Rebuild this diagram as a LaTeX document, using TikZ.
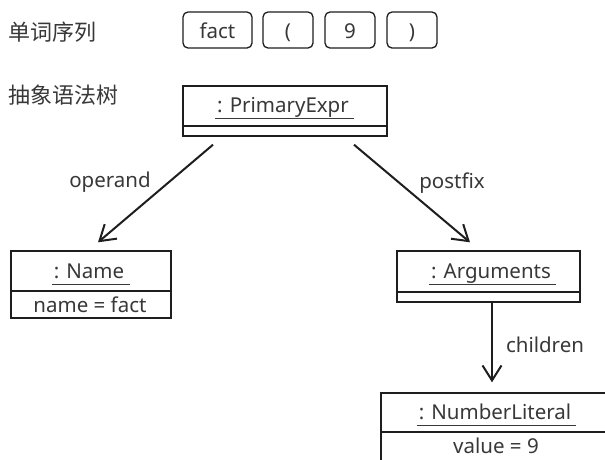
\documentclass[tikz,border=0pt]{standalone}
\usepackage{fontspec}
\setmainfont{Noto Sans}
\newfontfamily\cjk{Noto Sans CJK SC}
\usetikzlibrary{arrows.meta}
\definecolor{ink}{HTML}{1E1E1E}
\definecolor{txt}{HTML}{383838}
\begin{document}
\begin{tikzpicture}[x=1pt,y=-1pt,
  lbl/.style={inner sep=0pt, text=txt, font=\fontsize{20.5}{20.5}\selectfont},
  cjklbl/.style={inner sep=0pt, text=txt, font=\cjk\fontsize{22}{22}\selectfont, anchor=base west},
  tok/.style={draw=ink, line width=1.3pt, rounded corners=5pt, minimum height=36pt,
    inner sep=0pt, text=txt, font=\fontsize{20.5}{20.5}\selectfont, text height=18pt, text depth=2pt},
  comp/.style={draw=ink, line width=1.4pt, inner sep=0pt},
  ttl/.style={lbl, anchor=base},
  uline/.style={draw=txt, line width=1pt},
  arr/.style={draw=ink, line width=2pt, -{Straight Barb[length=15pt,width=19pt,line width=2pt]}}
]
\useasboundingbox (0,0) rectangle (605,459);
\clip (0,0) rectangle (605,459);
\fill[white] (0,0) rectangle (605,459);

% row labels
\node[cjklbl] (l1) at (8,40.5) {单词序列};
\node[cjklbl] (l2) at (8,103) {抽象语法树};

% tokens
\node[tok, minimum width=69pt] (t1) at (217.5,30) {fact};
\node[tok, minimum width=50pt] (t2) at (288,30) {(};
\node[tok, minimum width=50pt] (t3) at (350,30) {9};
\node[tok, minimum width=50pt] (t4) at (412,30) {)};

% PrimaryExpr
\node[comp, minimum width=204pt, minimum height=40pt] (pe) at (285,106) {};
\node[comp, minimum width=204pt, minimum height=10pt] (pe2) at (285,131) {};
\node[ttl] (pet) at (283,112) {: PrimaryExpr};
\draw[uline] ([xshift=-2pt,yshift=-6pt]pet.base west) -- ([xshift=5pt,yshift=-6pt]pet.base east);

% Name
\node[comp, minimum width=160pt, minimum height=40pt] (nm) at (91,271) {};
\node[comp, minimum width=160pt, minimum height=27pt] (nm2) at (91,304.5) {};
\node[ttl] (nmt) at (89,278) {: Name};
\draw[uline] ([xshift=-2pt,yshift=-6pt]nmt.base west) -- ([xshift=6pt,yshift=-6pt]nmt.base east);
\node[ttl] (nma) at (90,312) {name = fact};

% Arguments
\node[comp, minimum width=183pt, minimum height=41pt] (ag) at (488.5,271.5) {};
\node[comp, minimum width=183pt, minimum height=10pt] (ag2) at (488.5,297) {};
\node[ttl] (agt) at (491,278) {: Arguments};
\draw[uline] ([xshift=-2pt,yshift=-6pt]agt.base west) -- ([xshift=5pt,yshift=-6pt]agt.base east);

% NumberLiteral
\node[comp, minimum width=230pt, minimum height=39pt] (nl) at (496,412.5) {};
\node[comp, minimum width=230pt, minimum height=43pt] (nl2) at (496,453.5) {};
\node[ttl] (nlt) at (495,419) {: NumberLiteral};
\draw[uline] ([xshift=-2pt,yshift=-6pt]nlt.base west) -- ([xshift=5pt,yshift=-6pt]nlt.base east);
\node[ttl] (nla) at (496,453) {value = 9};

% connectors
\draw[arr] ([xshift=-72pt,yshift=-8pt]pe2.south) -- ([xshift=7pt,yshift=8pt]nm.north);
\draw[arr] ([xshift=69pt,yshift=-8pt]pe2.south) -- ([xshift=-18.5pt,yshift=8pt]ag.north);
\draw[arr] ([xshift=3.5pt]ag2.south) -- ([xshift=-4pt,yshift=10pt]nl.north);

% connector labels
\node[lbl, anchor=base] (op) at (110,187) {operand};
\node[lbl, anchor=base] (pf) at (452,188) {postfix};
\node[lbl, anchor=base] (ch) at (545,352) {children};
\end{tikzpicture}
\end{document}
